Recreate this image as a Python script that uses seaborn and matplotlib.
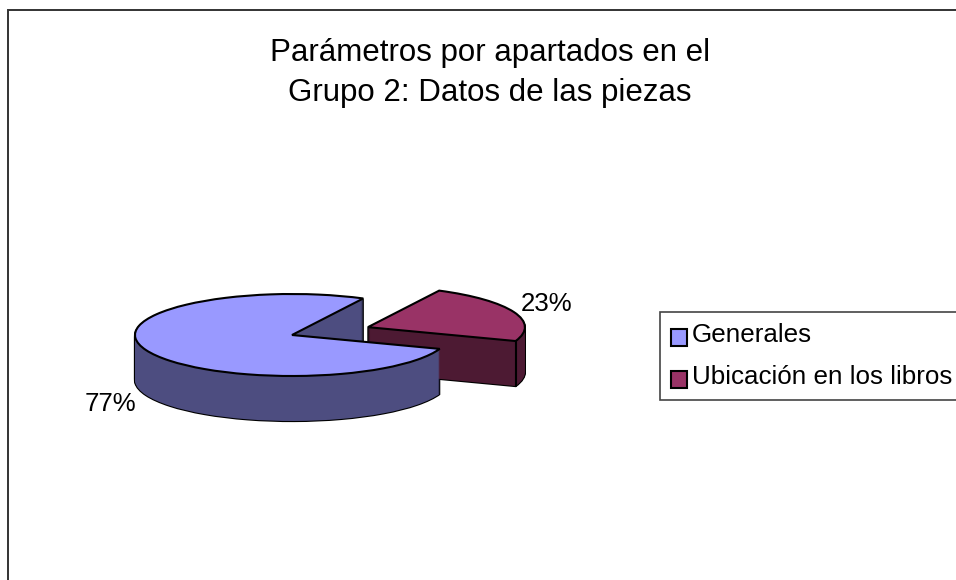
import numpy as np
import seaborn as sns
import matplotlib.pyplot as plt
from matplotlib.patches import Rectangle

# data
apartados = ['Generales', 'Ubicación en los libros']
valores = [77, 23]
titulo = 'Parámetros por apartados en el\nGrupo 2: Datos de las piezas'

sns.set_theme(style='white')
plt.rcParams['font.family'] = ['Liberation Sans', 'DejaVu Sans']

top_cols = sns.color_palette(['#9999FF', '#993366'])
side_cols = sns.color_palette(['#4D4D80', '#4D1A33'])

W, H = 956, 580
fig = plt.figure(figsize=(W / 100, H / 100), dpi=100, facecolor='white')
ax = fig.add_axes([0, 0, 1, 1])

# one pie unit is 157 px across and 41 px high, to fake the tilted pie
cx, cy, rx, ry = 292, 335, 157, 41
depth = 45
start = 63
explode = [0, 0.52]


def layer(dy, cols, lw, edge='none'):
    return ax.pie(valores, colors=cols, startangle=start, explode=explode,
                  center=(0, -dy / ry), radius=1,
                  wedgeprops=dict(edgecolor=edge, linewidth=lw))[0]


# side walls, first pass leaves only the black outline of the block
for dy in range(depth, 0, -1):
    layer(dy, side_cols, 1.6, 'black')
for dy in range(depth, 0, -1):
    layer(dy, side_cols, 0)
tapa = layer(0, top_cols, 1.5, 'black')

ax.set_aspect('auto')
ax.set_xlim(-cx / rx, (W - cx) / rx)
ax.set_ylim(-(H - cy) / ry, cy / ry)
ax.axis('off')

# corner edge on the front of the small slice
w = tapa[1]
esq_x = w.center[0] + np.cos(np.radians(w.theta1))
esq_y = w.center[1] + np.sin(np.radians(w.theta1))
ax.plot([esq_x, esq_x], [esq_y, esq_y - depth / ry], color='black', lw=1.5)

# chart border runs off the right and bottom of the image
fig.add_artist(Rectangle((7.5 / W, -0.1), 1.1, 1.1 - 10.5 / H, fill=False,
                         edgecolor='#333333', lw=1.4, transform=fig.transFigure))

fig.text(490 / W, 1 - 73 / H, titulo, ha='center', va='center',
         fontsize=22.5, color='black', linespacing=1.45)
fig.text(110 / W, 1 - 404 / H, f'{valores[0]}%', ha='center', va='center', fontsize=18.6, color='black')
fig.text(547 / W, 1 - 304 / H, f'{valores[1]}%', ha='center', va='center', fontsize=18.6, color='black')

leg = fig.legend(tapa, apartados, loc='upper left', bbox_to_anchor=(660 / W, 1 - 312 / H),
                 bbox_transform=fig.transFigure, borderaxespad=0, fontsize=18.7,
                 handlelength=0.62, handleheight=0.65, handletextpad=0.2,
                 labelspacing=0.7, borderpad=0.42, fancybox=False, framealpha=1,
                 edgecolor='#444444', labelcolor='black')
leg.get_frame().set_linewidth(1.2)
for h in leg.legend_handles:
    h.set_edgecolor('black')
    h.set_linewidth(1.5)
    h.set_y(h.get_y() - 3.2)  # swatches sit a bit below the text

fig.savefig('out.png', dpi=100)
